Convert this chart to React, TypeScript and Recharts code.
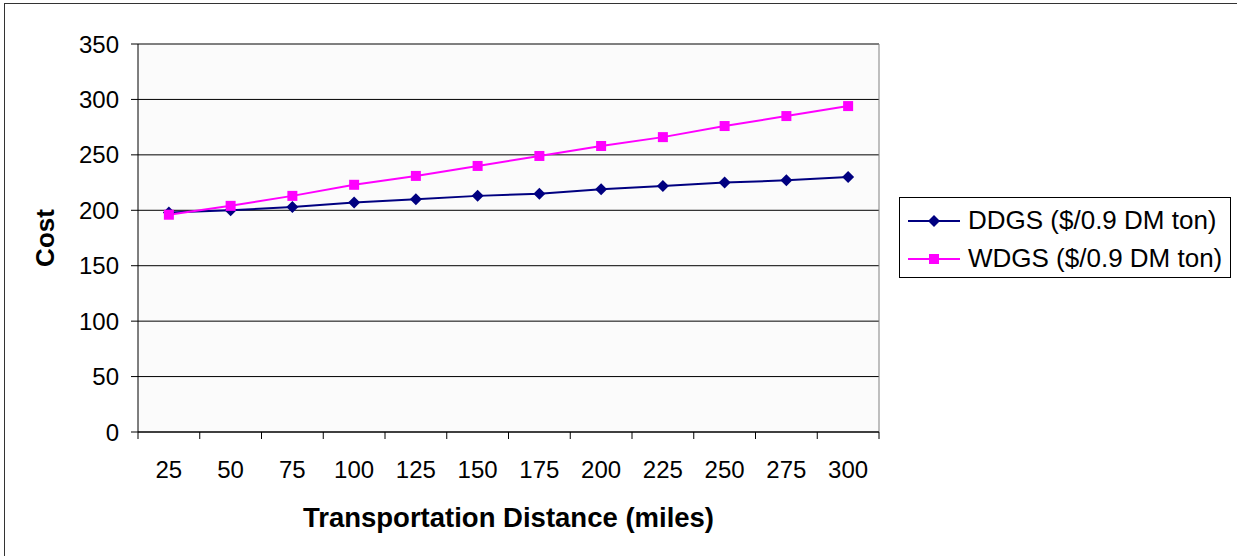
import { LineChart, Line, XAxis, YAxis, CartesianGrid, ReferenceLine } from 'recharts'

const DISTANCES = [25, 50, 75, 100, 125, 150, 175, 200, 225, 250, 275, 300]
const DDGS_COST = [198, 200, 203, 207, 210, 213, 215, 219, 222, 225, 227, 230]
const WDGS_COST = [196, 204, 213, 223, 231, 240, 249, 258, 266, 276, 285, 294]
const COST_TICKS = [0, 50, 100, 150, 200, 250, 300, 350]

const SERIES = [
  { key: 'ddgs', name: 'DDGS ($/0.9 DM ton)', color: '#000080', shape: 'diamond' },
  { key: 'wdgs', name: 'WDGS ($/0.9 DM ton)', color: '#FF00FF', shape: 'square' }
]

const FONT = '"Liberation Sans", Arial, sans-serif'

// half a category on each side, so markers sit between the tick marks
const HALF = 12.5
const BOUNDS = [...DISTANCES.map(d => d - HALF), DISTANCES[DISTANCES.length - 1] + HALF]

const chartData = DISTANCES.map((d, i) => ({
  dist: d,
  ddgs: DDGS_COST[i],
  wdgs: WDGS_COST[i]
}))

const Marker = ({ cx, cy, shape, color }: any) => {
  if (cx == null || cy == null) return null
  if (shape === 'diamond') {
    const r = 6
    return <polygon points={`${cx},${cy - r} ${cx + r},${cy} ${cx},${cy + r} ${cx - r},${cy}`} fill={color} />
  }
  const s = 5
  return <rect x={cx - s} y={cy - s} width={s * 2} height={s * 2} fill={color} />
}

const LegendBox = () => (
  <div
    style={{
      position: 'absolute',
      left: 899,
      top: 197,
      border: '1px solid #000',
      background: '#fff',
      width: 330,
      height: 79,
      fontFamily: FONT,
      fontSize: 26,
      color: '#000'
    }}
  >
    {SERIES.map((s, i) => (
      <div key={s.key} style={{ display: 'flex', alignItems: 'center', height: 39, marginTop: i === 0 ? 3 : -1 }}>
        <svg width={68} height={20} style={{ flex: 'none' }}>
          <line x1={8} y1={10} x2={60} y2={10} stroke={s.color} strokeWidth={2} />
          {s.shape === 'diamond'
            ? <polygon points="34,4 40,10 34,16 28,10" fill={s.color} />
            : <rect x={29} y={5} width={10} height={10} fill={s.color} />}
        </svg>
        <span style={{ whiteSpace: 'nowrap' }}>{s.name}</span>
      </div>
    ))}
  </div>
)

const NoLabel = () => <g />

export default function App() {
  return (
    <div style={{ position: 'relative', width: 1237, height: 556, overflow: 'hidden', background: '#fff' }}>
      <style>{'body{margin:0}'}</style>
      <div
        style={{
          position: 'absolute',
          left: 4,
          top: 3,
          width: 1300,
          height: 600,
          borderLeft: '1px solid #333',
          borderTop: '1px solid #333',
          pointerEvents: 'none'
        }}
      />
      <LineChart
        width={1237}
        height={556}
        data={chartData}
        margin={{ top: 44, right: 358, left: 0, bottom: 0 }}
        style={{ fontFamily: FONT }}
      >
        <CartesianGrid vertical={false} stroke="#000" fill="#fbfbfb" />
        {/* axis line and tick marks at the category boundaries */}
        <XAxis
          xAxisId={0}
          dataKey="dist"
          type="number"
          domain={[BOUNDS[0], BOUNDS[BOUNDS.length - 1]]}
          ticks={BOUNDS}
          tick={<NoLabel />}
          tickLine={{ stroke: '#000' }}
          tickSize={7}
          stroke="#000"
          height={1}
          interval={0}
          allowDataOverflow
        />
        {/* category labels and axis title */}
        <XAxis
          xAxisId="labels"
          dataKey="dist"
          type="number"
          domain={[BOUNDS[0], BOUNDS[BOUNDS.length - 1]]}
          ticks={DISTANCES}
          interval={0}
          axisLine={false}
          tickLine={false}
          tickSize={0}
          tickMargin={28}
          tick={{ fill: '#000', fontSize: 24, fontFamily: FONT }}
          height={123}
          allowDataOverflow
          label={{
            value: 'Transportation Distance (miles)',
            position: 'insideBottom',
            offset: 29,
            fill: '#000',
            fontSize: 27.5,
            fontWeight: 'bold',
            fontFamily: FONT
          }}
        />
        <YAxis
          domain={[0, 350]}
          ticks={COST_TICKS}
          tickSize={7}
          tickMargin={12}
          stroke="#000"
          width={138}
          tick={{ fill: '#000', fontSize: 24, fontFamily: FONT }}
          label={{
            content: ({ viewBox }: any) => (
              <text
                x={45}
                y={viewBox.y + viewBox.height / 2}
                transform={`rotate(-90, 45, ${viewBox.y + viewBox.height / 2})`}
                textAnchor="middle"
                dominantBaseline="central"
                fill="#000"
                fontSize={26}
                fontWeight="bold"
                fontFamily={FONT}
              >
                Cost
              </text>
            )
          }}
        />
        <ReferenceLine y={350} stroke="#808080" />
        <ReferenceLine x={BOUNDS[BOUNDS.length - 1]} stroke="#808080" />
        {SERIES.map(s => (
          <Line
            key={s.key}
            xAxisId={0}
            dataKey={s.key}
            name={s.name}
            type="linear"
            stroke={s.color}
            strokeWidth={2}
            dot={(p: any) => <Marker key={`${s.key}-${p.index}`} cx={p.cx} cy={p.cy} shape={s.shape} color={s.color} />}
            activeDot={false}
            isAnimationActive={false}
          />
        ))}
      </LineChart>
      <LegendBox />
    </div>
  )
}
